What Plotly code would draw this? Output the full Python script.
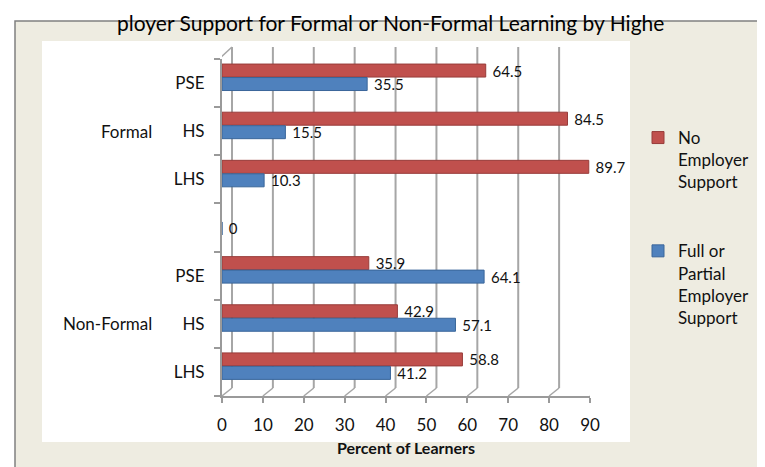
import plotly.graph_objects as go

# ---- data ----
category_ids = ["NF-LHS", "NF-HS", "NF-PSE", "GAP", "F-LHS", "F-HS", "F-PSE"]
level_labels = ["LHS", "HS", "PSE", "", "LHS", "HS", "PSE"]
group_labels = ["Non-Formal", "Formal"]
group_anchor = ["NF-HS", "F-HS"]
no_support = [58.8, 42.9, 35.9, None, 89.7, 84.5, 64.5]
full_partial_support = [41.2, 57.1, 64.1, 0, 10.3, 15.5, 35.5]
x_ticks = [0, 10, 20, 30, 40, 50, 60, 70, 80, 90]

# ---- geometry ----
W, H = 765, 467
L, R, T, B = 214, 582, 51, 388
FONT = "Lato, 'Open Sans', sans-serif"
RED, BLUE = "#C0504D", "#4F81BD"
GRID = "#A6A6A6"
DEPTH_X, DEPTH_Y = 10, 8


def px2x(px):
    return (px - L) / (R - L)


def py2y(py):
    return (B - py) / (B - T)


def fmt(v):
    if v is None:
        return ""
    return f" {v:g}"


fig = go.Figure()
fig.add_trace(go.Bar(
    y=category_ids, x=no_support, orientation="h",
    name="No<br>Employer<br>Support",
    marker=dict(color=RED, line=dict(color="#983C3A", width=1)),
    width=0.27, offset=0.125,
    text=[fmt(v) for v in no_support], textposition="outside",
    textfont=dict(family=FONT, size=15, color="#111111"),
    constraintext="none", cliponaxis=False,
    legendgroup="a",
))
fig.add_trace(go.Bar(
    y=category_ids, x=full_partial_support, orientation="h",
    name="Full or<br>Partial<br>Employer<br>Support",
    marker=dict(color=BLUE, line=dict(color="#3A669A", width=1)),
    width=0.27, offset=-0.155,
    text=[fmt(v) for v in full_partial_support], textposition="outside",
    textfont=dict(family=FONT, size=15, color="#111111"),
    constraintext="none", cliponaxis=False,
    legendgroup="b",
))

shapes = [
    dict(type="rect", xref="paper", yref="paper", x0=px2x(7), x1=px2x(775),
         y0=py2y(13), y1=py2y(480), fillcolor="#EEECE1",
         line=dict(color="#808080", width=1.5), layer="below"),
    dict(type="rect", xref="paper", yref="paper", x0=px2x(34), x1=px2x(622),
         y0=py2y(33), y1=py2y(434), fillcolor="white",
         line=dict(width=0), layer="below"),
]
for v in x_ticks:
    # back-wall gridline
    shapes.append(dict(type="line", xref="x", xsizemode="pixel", xanchor=v,
                       x0=DEPTH_X, x1=DEPTH_X, yref="paper",
                       y0=py2y(B - DEPTH_Y), y1=py2y(39),
                       line=dict(color=GRID, width=2), layer="below"))
    # floor slant
    shapes.append(dict(type="line", xref="x", xsizemode="pixel", xanchor=v,
                       x0=0, x1=DEPTH_X, yref="paper",
                       y0=py2y(B), y1=py2y(B - DEPTH_Y),
                       line=dict(color=GRID, width=1.5), layer="below"))
# top-left slant of the wall
shapes.append(dict(type="line", xref="x", xsizemode="pixel", xanchor=0,
                   x0=-3, x1=DEPTH_X, yref="paper",
                   y0=py2y(T), y1=py2y(39),
                   line=dict(color=GRID, width=1.5), layer="below"))

annotations = [
    dict(text="ployer Support for Formal or Non-Formal Learning by Highe",
         xref="paper", yref="paper", x=px2x(382), y=py2y(0),
         xanchor="center", yanchor="top", showarrow=False,
         font=dict(family=FONT, size=21, color="#000000")),
]
for g, a in zip(group_labels, group_anchor):
    annotations.append(dict(text=g, xref="paper", yref="y", x=px2x(146), y=a,
                            xanchor="right", yanchor="middle", showarrow=False,
                            font=dict(family=FONT, size=17, color="#111111")))

fig.update_layout(
    width=W, height=H,
    margin=dict(l=L, r=W - R, t=T, b=H - B, pad=0),
    paper_bgcolor="white", plot_bgcolor="rgba(0,0,0,0)",
    barmode="overlay",
    font=dict(family=FONT, color="#111111"),
    shapes=shapes, annotations=annotations,
    showlegend=True,
    legend=dict(x=px2x(630), y=py2y(112), xanchor="left", yanchor="top",
                traceorder="grouped", tracegroupgap=44,
                valign="top", itemwidth=30, bgcolor="rgba(0,0,0,0)",
                font=dict(family=FONT, size=17, color="#111111")),
    xaxis=dict(range=[0, 90], tickvals=x_ticks, showgrid=False, zeroline=False,
               showline=True, linecolor="#9A9A9A", linewidth=2,
               ticks="outside", ticklen=5, tickcolor="#9A9A9A", tickwidth=1.5,
               ticklabelstandoff=8,
               tickfont=dict(family=FONT, size=17, color="#111111")),
    yaxis=dict(type="category", categoryorder="array", categoryarray=category_ids,
               tickvals=category_ids, ticktext=level_labels,
               range=[-0.5, 6.5], showgrid=False, zeroline=False,
               showline=True, linecolor="#9A9A9A", linewidth=2,
               ticks="outside", ticklen=6, tickcolor="#9A9A9A", tickwidth=1.5,
               tickson="boundaries", ticklabelstandoff=12,
               tickfont=dict(family=FONT, size=17, color="#111111")),
)
fig.update_xaxes(title=dict(text="<b>Percent of Learners</b>", standoff=8,
                            font=dict(family=FONT, size=16, color="#111111")))

fig.write_html("out.html")
